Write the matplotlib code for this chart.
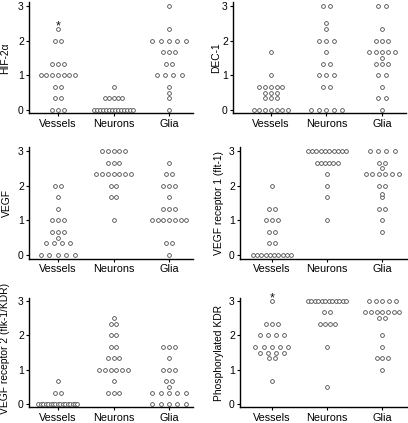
import numpy as np
import matplotlib.pyplot as plt

plt.rcParams['font.family'] = ['Liberation Sans', 'DejaVu Sans']

groups = ['Vessels', 'Neurons', 'Glia']
# score levels (mean scores), counts below are given per level in this order
levels = [0, 1/3, 1/2, 2/3, 1, 4/3, 3/2, 5/3, 7/4, 2, 7/3, 5/2, 8/3, 3]

hif_vessels = [3, 2, 0, 2, 7, 3, 0, 0, 0, 2, 1, 0, 0, 0]
hif_neurons = [14, 5, 0, 1, 0, 0, 0, 0, 0, 0, 0, 0, 0, 0]
hif_glia = [1, 1, 1, 1, 4, 2, 0, 3, 0, 5, 1, 0, 0, 1]

dec_vessels = [7, 3, 3, 5, 1, 0, 0, 1, 0, 0, 0, 0, 0, 0]
dec_neurons = [5, 0, 0, 2, 3, 2, 0, 1, 0, 3, 1, 1, 0, 2]
dec_glia = [1, 2, 0, 1, 2, 3, 1, 5, 0, 3, 1, 0, 0, 2]

vegf_vessels = [5, 4, 1, 3, 3, 1, 0, 1, 0, 2, 0, 0, 0, 0]
vegf_neurons = [0, 0, 0, 0, 1, 0, 0, 2, 0, 2, 7, 0, 3, 5]
vegf_glia = [1, 2, 0, 0, 7, 3, 0, 1, 0, 3, 2, 0, 1, 0]

flt_vessels = [10, 2, 0, 2, 3, 2, 0, 0, 0, 1, 0, 0, 0, 0]
flt_neurons = [0, 0, 0, 0, 1, 0, 0, 1, 0, 1, 1, 0, 6, 10]
flt_glia = [0, 0, 0, 1, 1, 2, 0, 1, 1, 2, 6, 1, 2, 4]

kdr_vessels = [17, 2, 0, 1, 0, 0, 0, 0, 0, 0, 0, 0, 0, 0]
kdr_neurons = [0, 3, 0, 1, 6, 3, 0, 2, 0, 2, 2, 1, 0, 0]
kdr_glia = [5, 5, 1, 2, 3, 1, 0, 3, 0, 0, 0, 0, 0, 0]

pkdr_vessels = [0, 0, 0, 1, 0, 2, 4, 5, 0, 4, 3, 0, 0, 1]
pkdr_neurons = [0, 0, 1, 0, 0, 0, 0, 1, 0, 0, 4, 0, 2, 12]
pkdr_glia = [0, 0, 0, 0, 1, 3, 0, 1, 0, 1, 0, 2, 7, 5]

titles = ['HIF-2\u03b1', 'DEC-1', 'VEGF', 'VEGF receptor 1 (flt-1)',
          'VEGF receptor 2 (flk-1/KDR)', 'Phosphorylated KDR']
panel_counts = [
    [hif_vessels, hif_neurons, hif_glia],
    [dec_vessels, dec_neurons, dec_glia],
    [vegf_vessels, vegf_neurons, vegf_glia],
    [flt_vessels, flt_neurons, flt_glia],
    [kdr_vessels, kdr_neurons, kdr_glia],
    [pkdr_vessels, pkdr_neurons, pkdr_glia],
]
# panels with an asterisk above the top vessel point
starred = [0, 5]

# ---- layout (pixels in a 408x423 figure) ----
W, H = 408, 423
px_per_cat = 55.5
rows_px = [(2.5, 113.5), (147.5, 258.5), (297.6, 407.4)]
cols_px = [
    (29, 193, -0.52, 2.43, -0.116),   # left, right, xmin, xmax, label x
    (233, 406, -0.68, 2.43, -0.069),
    (29, 193, -0.52, 2.43, -0.104),
    (240, 407, -0.58, 2.45, -0.096),
    (29, 193, -0.52, 2.43, -0.116),
    (240, 407, -0.58, 2.45, -0.096),
]
label_y = [0.5, 0.5, 0.5, 0.5, 0.54, 0.5]
# horizontal dot gap (px) for rows that differ from the default
row_gap = {
    (0, 2, 1): 8.3, (0, 2, 2): 8.3, (0, 1, 1/3): 4.2,
    (1, 1, 0): 7.9, (1, 1, 2/3): 7.3, (1, 1, 1): 7.8, (1, 1, 4/3): 7.3,
    (1, 1, 2): 7.8, (1, 1, 3): 7.3,
    (1, 2, 1/3): 7.5, (1, 2, 1): 7.5, (1, 2, 3): 7.5, (1, 2, 5/3): 6.4,
    (2, 0, 0): 8.4, (2, 0, 1/3): 8.2,
    (3, 2, 7/3): 6.6, (3, 2, 3): 8.3, (3, 1, 8/3): 4.2,
    (4, 2, 0): 8.3, (4, 2, 1/3): 8.3,
    (5, 0, 3/2): 8.3, (5, 0, 5/3): 8.3, (5, 0, 2): 8.3, (5, 2, 3): 6.7,
    (5, 1, 7/3): 5.0,
}


def row_offsets(n, gap):
    if gap is None:
        gap = min(5.7, 39.0 / max(n - 1, 1))
    return (np.arange(n) - (n - 1) / 2) * gap / px_per_cat


fig = plt.figure(figsize=(W / 100, H / 100), dpi=100)

for p in range(6):
    top, bottom = rows_px[p // 2]
    left, right, xmin, xmax, lab_x = cols_px[p]
    ax = fig.add_axes([left / W, 1 - bottom / H, (right - left) / W, (bottom - top) / H])

    xs, ys = [], []
    for g, counts in enumerate(panel_counts[p]):
        for lev, n in zip(levels, counts):
            if n == 0:
                continue
            off = row_offsets(n, row_gap.get((p, g, lev)))
            xs.extend(g + off)
            ys.extend([lev] * n)
    ax.plot(xs, ys, 'o', ms=2.7, mfc='white', mec='#4a4a4a', mew=0.6,
            ls='none', clip_on=False)

    if p in starred:
        vy = [lev for lev, n in zip(levels, panel_counts[p][0]) if n > 0]
        ax.annotate('*', (0, max(vy)), xytext=(0, -0.3), textcoords='offset points',
                    ha='center', va='baseline', fontsize=9, color='#111111',
                    annotation_clip=False)

    ax.set_xlim(xmin, xmax)
    ax.set_ylim(-0.1, 3.1)
    ax.set_xticks(range(3))
    ax.set_xticklabels(groups)
    ax.set_yticks([0, 1, 2, 3])
    ax.spines['top'].set_visible(False)
    ax.spines['right'].set_visible(False)
    for s in ['left', 'bottom']:
        ax.spines[s].set_linewidth(1.0)
    ax.tick_params(direction='out', length=2.2, width=0.8, pad=1.5, labelsize=7.5)
    ax.tick_params(axis='x', labelsize=7.8, pad=2)
    ax.set_ylabel(titles[p], fontsize=7.4)
    ax.yaxis.set_label_coords(lab_x, label_y[p])

fig.savefig('out.png', dpi=100)
